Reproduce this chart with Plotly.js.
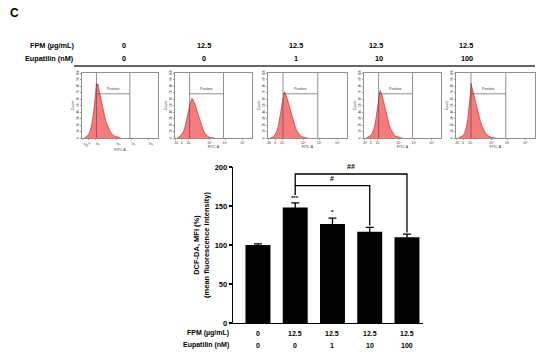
<!DOCTYPE html>
<html>
<head>
<meta charset="utf-8">
<script src="https://cdn.plot.ly/plotly-3.0.1.min.js"></script>
<style>
html,body{margin:0;padding:0;background:#fff;}
#chart{width:550px;height:355px;}
</style>
</head>
<body>
<div id="chart"></div>
<script>
// ---- Data ----
const categories = [0, 1, 2, 3, 4];
const fpmLabels = ["0", "12.5", "12.5", "12.5", "12.5"];
const eupLabels = ["0", "0", "1", "10", "100"];
const mfi = [100, 148, 127, 117, 110];
const mfiErr = [1.5, 6, 7.5, 5.5, 4];
const sigStars = ["", "***", "*", "", ""];
const sigStarY = [0, 160, 142, 0, 0];

// Flow cytometry histograms (FITC-A channel position vs count, per panel)
const histBins = [3,5,7,9,11,13,15,16,17,18,19,20,21,22,23,25,27,29,31,33,35,37,39,41,43,45,47,49,51];
const hist1 = [0,1,3,6,12,22,36,46,58,70,84,80,83,76,70,58,47,37,27,21,14,10,7,4,3,2,1,0,0];
const hist2 = [0,1,3,6,10,17,26,31,38,44,50,55,57,61,60,55,49,40,32,23,17,11,7,4,2,1,1,0,0];
const hist3 = [0,1,2,5,10,18,30,37,46,54,63,66,71,68,66,58,49,40,30,22,15,10,6,4,2,1,0,0,0];
const hist4 = [0,1,2,4,8,15,26,33,42,50,61,68,73,70,68,58,47,37,27,19,13,8,5,3,2,1,0,0,0];
const hist5 = [0,1,2,4,8,16,30,40,52,66,84,79,72,66,62,52,42,33,25,18,12,8,5,3,2,1,0,0,0];
const histSets = [hist1, hist2, hist3, hist4, hist5];
const histLeftTick = ["-100", "-10", "-66", "-47", "-16"];
const histTickVals = [1, 9, 18, 45, 65, 88];
const histCountTicks = [0, 10, 20, 30, 40, 50, 60, 70, 80, 90, 100];

// ---- Helpers ----
const W = 550, H = 355;
const px = x => x / W;
const py = y => 1 - y / H;
const FONT = "Liberation Sans, Arial, sans-serif";

const traces = [];
const layout = {
  width: W, height: H,
  margin: {l: 0, r: 0, t: 0, b: 0},
  paper_bgcolor: "#fff", plot_bgcolor: "#fff",
  showlegend: false,
  font: {family: FONT, color: "#000"},
  shapes: [], annotations: []
};

// ---- Histogram panels ----
const panelX = [[82, 158], [175, 252], [268, 347], [364, 441], [456, 535]];
const panelY = [73, 138];
histSets.forEach((h, i) => {
  const n = i + 2;
  const xa = "x" + n, ya = "y" + n;
  traces.push({
    type: "scatter", mode: "lines",
    x: histBins, y: h,
    xaxis: xa, yaxis: ya,
    fill: "tozeroy",
    fillcolor: "rgba(245,70,70,0.72)",
    line: {color: "#c21818", width: 0.6},
    hoverinfo: "skip"
  });
  layout["xaxis" + n] = {
    domain: [px(panelX[i][0]), px(panelX[i][1])],
    anchor: ya, range: [0, 100],
    showgrid: false, zeroline: false,
    showline: true, mirror: true, linecolor: "#444", linewidth: 0.6,
    ticks: "outside", ticklen: 1.5, tickwidth: 0.5, tickcolor: "#444",
    tickvals: histTickVals,
    ticktext: [histLeftTick[i], "0", "10³", "10⁴", "10⁵", "10⁶"],
    tickfont: {size: 3.2, color: "#333", family: FONT},
    title: {text: "FITC-A", font: {size: 3.5, color: "#333", family: FONT}, standoff: 1}
  };
  layout["yaxis" + n] = {
    domain: [py(panelY[1]), py(panelY[0])],
    anchor: xa, range: [0, 100],
    showgrid: false, zeroline: false,
    showline: true, mirror: true, linecolor: "#444", linewidth: 0.6,
    ticks: "outside", ticklen: 1.5, tickwidth: 0.5, tickcolor: "#444",
    tickvals: histCountTicks,
    tickfont: {size: 3, color: "#333", family: FONT},
    tickangle: -90,
    title: {text: "Count", font: {size: 3.5, color: "#333", family: FONT}, standoff: 1}
  };
  // gate
  layout.shapes.push(
    {type: "line", xref: xa, yref: ya, x0: 19, x1: 19, y0: 0, y1: 100, line: {color: "#444", width: 0.6}},
    {type: "line", xref: xa, yref: ya, x0: 63, x1: 63, y0: 0, y1: 100, line: {color: "#444", width: 0.6}},
    {type: "line", xref: xa, yref: ya, x0: 19, x1: 63, y0: 68, y1: 68, line: {color: "#444", width: 0.6}}
  );
  layout.annotations.push({
    xref: xa, yref: ya, x: 41, y: 76, text: "Positive", showarrow: false,
    font: {size: 3.6, color: "#444", family: FONT}
  });
});

// ---- Bar chart ----
traces.push({
  type: "bar", x: categories, y: mfi,
  xaxis: "x", yaxis: "y",
  width: 0.67,
  marker: {color: "#000", line: {width: 0}},
  error_y: {type: "data", array: mfiErr, visible: true, color: "#000", thickness: 1.3, width: 4},
  hoverinfo: "skip"
});
layout.xaxis = {
  domain: [px(233), px(423)], anchor: "y",
  range: [-0.67, 4.43],
  showgrid: false, zeroline: false,
  showline: true, linecolor: "#000", linewidth: 1.3,
  ticks: "", showticklabels: false
};
layout.yaxis = {
  domain: [py(323), py(167)], anchor: "x",
  range: [0, 200],
  showgrid: false, zeroline: false,
  showline: true, linecolor: "#000", linewidth: 1.3,
  ticks: "outside", ticklen: 3, tickwidth: 1.2, tickcolor: "#000",
  tickvals: [0, 50, 100, 150, 200],
  tickfont: {size: 7.5, family: FONT, weight: "bold"},
  title: {text: "DCF-DA, MFI (%)<br>(mean fluorescence intensity)",
          font: {size: 7.5, family: FONT, weight: "bold"}, standoff: 4}
};

// significance brackets
layout.shapes.push(
  {type: "path", xref: "x", yref: "y", path: "M 1,176 L 1,191 L 4,191 L 4,116", line: {color: "#000", width: 1.3}},
  {type: "path", xref: "x", yref: "y", path: "M 1,164 L 1,176 L 3,176 L 3,125", line: {color: "#000", width: 1.3}}
);
layout.annotations.push(
  {xref: "x", yref: "y", x: 2.5, y: 194, text: "##", showarrow: false, yanchor: "bottom", font: {size: 7, family: FONT, weight: "bold"}},
  {xref: "x", yref: "y", x: 2.0, y: 178, text: "#", showarrow: false, yanchor: "bottom", font: {size: 7, family: FONT, weight: "bold"}}
);
categories.forEach((c, i) => {
  if (sigStars[i]) {
    layout.annotations.push({xref: "x", yref: "y", x: c, y: sigStarY[i], text: sigStars[i], showarrow: false,
      yanchor: "middle", font: {size: 6, family: FONT, weight: "bold"}});
  }
  // bottom label rows
  layout.annotations.push(
    {xref: "x", yref: "paper", x: c, y: py(333), text: fpmLabels[i], showarrow: false, yanchor: "middle",
     font: {size: 7, family: FONT, weight: "bold"}},
    {xref: "x", yref: "paper", x: c, y: py(345), text: eupLabels[i], showarrow: false, yanchor: "middle",
     font: {size: 7, family: FONT, weight: "bold"}}
  );
});
layout.annotations.push(
  {xref: "paper", yref: "paper", x: px(231), y: py(333), text: "FPM (µg/mL)", showarrow: false, xanchor: "right", yanchor: "middle",
   font: {size: 7, family: FONT, weight: "bold"}},
  {xref: "paper", yref: "paper", x: px(231), y: py(345), text: "Eupatilin (nM)", showarrow: false, xanchor: "right", yanchor: "middle",
   font: {size: 7, family: FONT, weight: "bold"}}
);

// ---- Top label rows ----
const topColX = [120, 204, 296, 385, 475];
topColX.forEach((x, i) => {
  layout.annotations.push(
    {xref: "paper", yref: "paper", x: px(x), y: py(45), text: fpmLabels[i], showarrow: false, yanchor: "middle",
     font: {size: 7.3, family: FONT, weight: "bold"}},
    {xref: "paper", yref: "paper", x: px(x), y: py(58), text: eupLabels[i], showarrow: false, yanchor: "middle",
     font: {size: 7.3, family: FONT, weight: "bold"}}
  );
});
layout.annotations.push(
  {xref: "paper", yref: "paper", x: px(76), y: py(45), text: "FPM (µg/mL)", showarrow: false, xanchor: "right", yanchor: "middle",
   font: {size: 7.3, family: FONT, weight: "bold"}},
  {xref: "paper", yref: "paper", x: px(76), y: py(58), text: "Eupatilin (nM)", showarrow: false, xanchor: "right", yanchor: "middle",
   font: {size: 7.3, family: FONT, weight: "bold"}},
  {xref: "paper", yref: "paper", x: px(8), y: py(13), text: "C", showarrow: false, xanchor: "left", yanchor: "middle",
   font: {size: 12, family: FONT, weight: "bold"}}
);
layout.shapes.push({type: "line", xref: "paper", yref: "paper", x0: px(74), x1: px(535), y0: py(66), y1: py(66),
  line: {color: "#333", width: 1.5}});

Plotly.newPlot("chart", traces, layout, {staticPlot: true, displayModeBar: false});
</script>
</body>
</html>
